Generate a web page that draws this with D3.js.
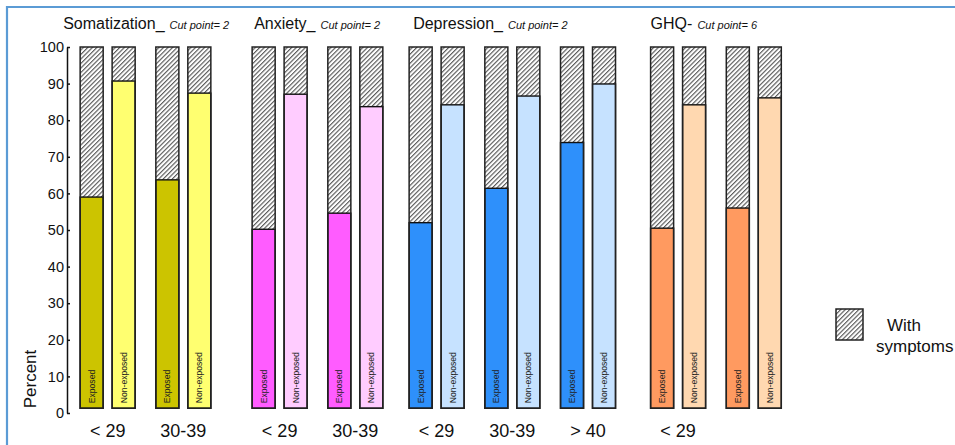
<!DOCTYPE html>
<html>
<head>
<meta charset="utf-8">
<script src="https://cdn.jsdelivr.net/npm/d3@7/dist/d3.min.js"></script>
<style>
  html, body { margin: 0; padding: 0; background: #fff; }
  svg { display: block; }
</style>
</head>
<body>
<script>
// ---------------- data ----------------
const panels = ["Somatization_", "Anxiety_", "Depression_", "GHQ-"];
const cutPoints = ["Cut point= 2", "Cut point= 2", "Cut point= 2", "Cut point= 6"];
const groupPanel = [0, 0, 1, 1, 2, 2, 2, 3, 3];
const ageLabels = ["< 29", "30-39", "< 29", "30-39", "< 29", "30-39", "> 40", "< 29", ""];
// percent WITHOUT symptoms (coloured part); the rest up to 100 is "with symptoms" (hatched)
const exposedNoSymptoms    = [59.0, 63.7, 50.2, 54.6, 52.0, 61.4, 73.9, 50.5, 56.0];
const nonExposedNoSymptoms = [90.7, 87.4, 87.1, 83.7, 84.2, 86.6, 89.9, 84.2, 86.1];
const exposedColors    = ["#ccc400", "#ff5cff", "#2e90fb", "#ff9a60"];
const nonExposedColors = ["#ffff70", "#ffccff", "#c6e2ff", "#ffd8b0"];
const barLabels = ["Exposed", "Non-exposed"];
const yTicks = [0, 10, 20, 30, 40, 50, 60, 70, 80, 90, 100];
const yTitle = "Percent";
const legendLines = ["With", "symptoms"];

// ---------------- layout ----------------
const W = 955, H = 445;
const FONT = "'Liberation Sans', Arial, Helvetica, sans-serif";
const svg = d3.select("body").append("svg")
  .attr("width", W).attr("height", H)
  .style("font-family", FONT);

svg.append("rect").attr("width", W).attr("height", H).attr("fill", "#fff");

// frame (blue top & left border)
svg.append("path")
  .attr("d", `M7,${H} L7,7 L${W},7`)
  .attr("fill", "none").attr("stroke", "#5b9bd5").attr("stroke-width", 2.2);

// hatch pattern
const defs = svg.append("defs");
const pat = defs.append("pattern")
  .attr("id", "hatch").attr("patternUnits", "userSpaceOnUse")
  .attr("width", 3.2).attr("height", 3.2)
  .attr("patternTransform", "rotate(45)");
pat.append("rect").attr("width", 3.2).attr("height", 3.2).attr("fill", "#fff");
pat.append("line").attr("x1", 0.6).attr("y1", 0).attr("x2", 0.6).attr("y2", 3.2)
  .attr("stroke", "#4a4a4a").attr("stroke-width", 1.05);

// extra spacing (in group units) added before each panel
const panelOffset = [0, 0.272, 0.346, 0.536];
const slot = groupPanel.map((p, i) => i + panelOffset[p]);
const x = d3.scaleLinear().domain([0, 8.536]).range([107.65, 753.8]);
const inner = d3.scaleBand().domain(barLabels).range([-27.5, 27.5]).paddingInner(0.28);
const y = d3.scaleLinear().domain([0, 100]).range([413, 47]);
const base = 1.3;

// y axis
const yAxis = d3.axisLeft(y).tickValues(yTicks).tickSizeInner(-3).tickSizeOuter(0).tickPadding(3);
const gAxis = svg.append("g").attr("transform", "translate(67,0)").call(yAxis);
gAxis.select(".domain").attr("stroke", "#111").attr("stroke-width", 1.5);
gAxis.selectAll(".tick line").attr("stroke", "#111").attr("stroke-width", 1.5);
gAxis.selectAll(".tick text").attr("font-size", 14.5).attr("font-family", FONT).attr("fill", "#111");

svg.append("text")
  .attr("transform", `translate(36,${379}) rotate(-90)`)
  .attr("text-anchor", "middle")
  .attr("font-size", 17).attr("fill", "#111")
  .text(yTitle);

// bars
const bars = [];
groupPanel.forEach((p, i) => {
  bars.push({ i, p, kind: barLabels[0], value: exposedNoSymptoms[i], color: exposedColors[p] });
  bars.push({ i, p, kind: barLabels[1], value: nonExposedNoSymptoms[i], color: nonExposedColors[p] });
});

const bw = inner.bandwidth();
const gb = svg.append("g").selectAll("g").data(bars).join("g")
  .attr("transform", d => `translate(${x(slot[d.i]) + inner(d.kind)},0)`);

gb.append("rect")
  .attr("x", 0).attr("width", bw)
  .attr("y", y(100)).attr("height", y(base) - y(100))
  .attr("fill", "url(#hatch)");
gb.append("rect")
  .attr("x", 0).attr("width", bw)
  .attr("y", d => y(d.value)).attr("height", d => y(base) - y(d.value))
  .attr("fill", d => d.color)
  .attr("stroke", "#111").attr("stroke-width", 1.4);
gb.append("rect")
  .attr("x", 0).attr("width", bw)
  .attr("y", y(100)).attr("height", y(base) - y(100))
  .attr("fill", "none")
  .attr("stroke", "#222").attr("stroke-width", 1.5);
gb.append("text")
  .attr("transform", `translate(${bw / 2 + 3},${y(base) - 5}) rotate(-90)`)
  .attr("font-size", 8.6).attr("fill", "#222")
  .text(d => d.kind);

// age labels
svg.append("g").selectAll("text").data(ageLabels).join("text")
  .attr("x", (d, i) => x(slot[i]))
  .attr("y", 437)
  .attr("text-anchor", "middle")
  .attr("font-size", 18).attr("fill", "#111")
  .text(d => d);

// panel titles
const titleShift = [-17, 2, 4, 0];
panels.forEach((name, p) => {
  const first = groupPanel.indexOf(p);
  const tx = x(slot[first]) + inner(barLabels[0]) + titleShift[p];
  const t = svg.append("text").attr("x", tx).attr("y", 29).attr("fill", "#111");
  t.append("tspan").attr("font-size", 16).text(name);
  t.append("tspan").attr("dx", 5).attr("font-size", 11).attr("font-style", "italic").text(cutPoints[p]);
});

// legend
svg.append("rect")
  .attr("x", 836).attr("y", 309).attr("width", 27).attr("height", 31)
  .attr("fill", "url(#hatch)").attr("stroke", "#222").attr("stroke-width", 1.5);
svg.append("text").attr("x", 887).attr("y", 331).attr("font-size", 17).attr("fill", "#111").text(legendLines[0]);
svg.append("text").attr("x", 876).attr("y", 352).attr("font-size", 17).attr("fill", "#111").text(legendLines[1]);
</script>
</body>
</html>
